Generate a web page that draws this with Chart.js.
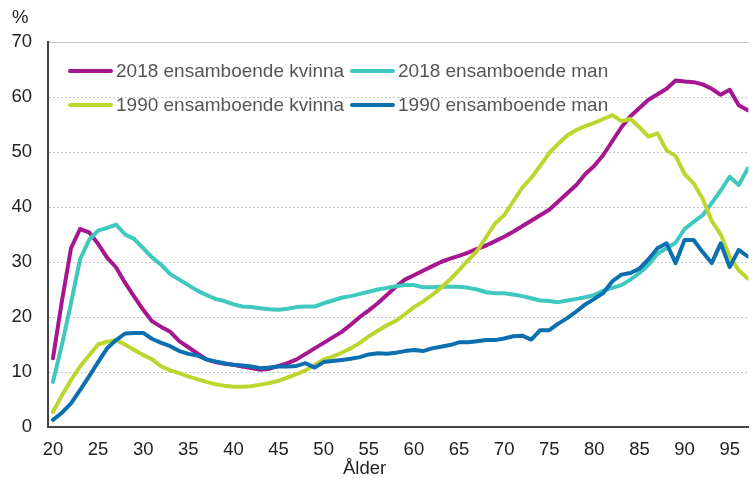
<!DOCTYPE html>
<html>
<head>
<meta charset="utf-8">
<script src="https://cdn.jsdelivr.net/npm/chart.js@4"></script>
<style>
body{margin:0;background:#fff;font-family:"Liberation Sans",Arial,sans-serif}
#wrap{position:relative;width:752px;height:479px;overflow:hidden}
.leg{position:absolute;font-size:19px;line-height:22px;color:#555;white-space:nowrap}
.sw{position:absolute;height:4px;width:45px;border-radius:2px}
.lbl{position:absolute;font-size:18.5px;color:#222}
</style>
</head>
<body>
<div id="wrap">
<canvas id="c"></canvas>
<div class="lbl" style="left:12px;top:6px">%</div>
<div class="lbl" style="left:343px;top:457px">Ålder</div>
<div class="sw" style="left:68px;top:69px;background:#a5168f"></div>
<div class="leg" style="left:116px;top:60px">2018 ensamboende kvinna</div>
<div class="sw" style="left:350px;top:69px;background:#3fc8bd"></div>
<div class="leg" style="left:398px;top:60px">2018 ensamboende man</div>
<div class="sw" style="left:68px;top:103px;background:#bdd62f"></div>
<div class="leg" style="left:116px;top:94px">1990 ensamboende kvinna</div>
<div class="sw" style="left:350px;top:103px;background:#0b6fb0"></div>
<div class="leg" style="left:398px;top:94px">1990 ensamboende man</div>
</div>
<script>
// ålder 20..97
const ages=[]
for(let a=20;a<=97;a++) ages.push(a)

const xTicks=[20,25,30,35,40,45,50,55,60,65,70,75,80,85,90,95]

const kvinna2018=[12.5,23,32.5,36,35.4,33.3,30.8,29,26.2,23.7,21.3,19.2,18.2,17.3,15.6,14.5,13.4,12.3,11.8,11.5,
11.3,11,10.7,10.4,10.6,11.1,11.6,12.3,13.3,14.3,15.3,16.3,17.3,18.6,20,21.2,22.5,24,25.5,26.8,
27.6,28.4,29.2,30,30.6,31.1,31.7,32.4,33,33.8,34.6,35.5,36.5,37.5,38.5,39.5,41,42.5,44,46,
47.5,49.5,52,54.5,56.5,58,59.5,60.5,61.5,63,62.8,62.7,62.3,61.5,60.4,61.3,58.5,57.6]

const man2018=[8.2,15,22.5,30.5,34,35.7,36.2,36.8,35,34.2,32.5,30.8,29.5,27.8,26.8,25.8,24.8,24,23.3,22.9,
22.3,21.9,21.8,21.6,21.4,21.3,21.5,21.8,21.9,21.9,22.5,23,23.5,23.8,24.2,24.6,25,25.3,25.6,25.8,
25.8,25.4,25.4,25.5,25.5,25.5,25.3,25,24.5,24.3,24.3,24.1,23.8,23.4,23,22.9,22.7,23,23.3,23.6,
24,24.8,25.3,25.8,26.8,28,29.5,31.5,32.5,33.5,36,37.3,38.5,40.7,43,45.5,44,47]

const kvinna1990=[2.7,5.8,8.5,11,13,15,15.5,15.8,15,14,13.1,12.3,11,10.3,9.8,9.2,8.7,8.2,7.8,7.5,
7.3,7.3,7.4,7.7,8,8.4,9,9.6,10.3,11.3,12.3,12.8,13.5,14.3,15.3,16.5,17.5,18.5,19.3,20.5,
21.8,22.8,24,25.3,26.8,28.5,30.3,32,34.5,37,38.5,41,43.5,45.3,47.5,49.8,51.5,53,54,54.7,
55.3,56,56.7,55.6,56,54.5,52.8,53.4,50.3,49.3,46,44.3,41.5,37.5,35,31,28.5,27]

const man1990=[1.3,2.6,4.3,6.7,9.2,11.8,14.3,15.8,17,17.1,17.1,16,15.3,14.7,13.8,13.3,13,12.3,11.9,11.6,
11.3,11.2,11,10.7,10.8,11,11,11.1,11.6,10.8,11.8,12,12.2,12.4,12.7,13.2,13.4,13.3,13.5,13.8,
14,13.8,14.3,14.6,14.9,15.4,15.4,15.6,15.8,15.8,16.1,16.5,16.6,15.9,17.6,17.6,18.8,19.8,21,22.3,
23.3,24.4,26.5,27.7,28,28.8,30.5,32.5,33.4,29.8,34,34,31.8,29.8,33.4,29.1,32.2,31]

function pts(vals){
return ages.map((a,i)=>({x:a,y:vals[i]}))
}

function ds(label,vals,color,order){
return{label:label,data:pts(vals),borderColor:color,backgroundColor:color,borderWidth:4,
pointRadius:0,tension:0,borderJoinStyle:"round",borderCapStyle:"round",order:order}
}

const tickFont={family:"'Liberation Sans', Arial, sans-serif",size:18.5}

new Chart(document.getElementById("c"),{
type:"line",
data:{datasets:[
ds("2018 ensamboende kvinna",kvinna2018,"#a5168f",3),
ds("2018 ensamboende man",man2018,"#3fc8bd",2),
ds("1990 ensamboende kvinna",kvinna1990,"#bdd62f",1),
ds("1990 ensamboende man",man1990,"#0b6fb0",0)
]},
options:{
responsive:true,
maintainAspectRatio:false,
animation:false,
layout:{padding:{top:42,right:0,bottom:0,left:0}},
plugins:{legend:{display:false},tooltip:{enabled:false}},
scales:{
x:{
type:"linear",min:19.45,max:97.07,
afterBuildTicks:s=>{s.ticks=xTicks.map(v=>({value:v}))},
afterFit:s=>{s.height=52},
grid:{display:false,drawTicks:false},
border:{display:true,color:"#444",width:2},
ticks:{color:"#222",font:tickFont,padding:12,maxRotation:0,autoSkip:false}
},
y:{
min:0,max:70,
afterFit:s=>{s.width=48},
ticks:{stepSize:10,color:"#222",font:tickFont,padding:16},
grid:{drawTicks:false,color:c=>c.tick&&c.tick.value===0?"rgba(0,0,0,0)":"#c4c4c4",lineWidth:1},
border:{display:true,color:"#444",width:2,dash:c=>c.tick&&c.tick.value<70?[2,2]:[]}
}
}
}
})
</script>
</body>
</html>
